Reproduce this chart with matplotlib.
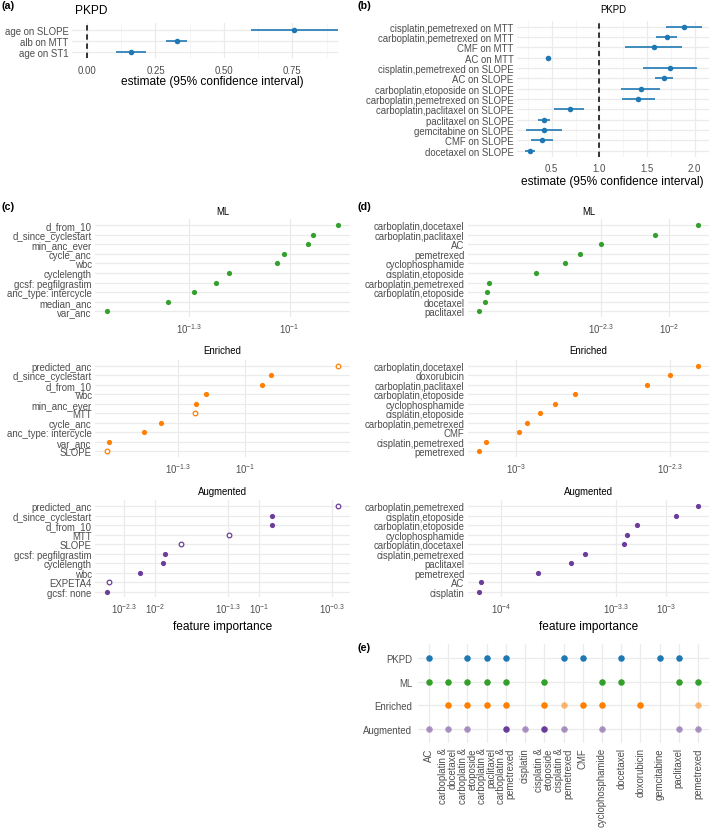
import numpy as np
import matplotlib
matplotlib.use("Agg")
import matplotlib.pyplot as plt
from matplotlib.ticker import NullLocator

plt.rcParams['font.family'] = ['Liberation Sans', 'DejaVu Sans']
plt.rcParams['mathtext.fontset'] = 'custom'
plt.rcParams['mathtext.rm'] = 'Liberation Sans'
plt.rcParams['mathtext.it'] = 'Liberation Sans:italic'

# ---- (a) PKPD covariate effects ----
a_labels = ["age on SLOPE", "alb on MTT", "age on ST1"]
a_est = [0.757, 0.328, 0.161]
a_lo = [0.599, 0.290, 0.107]
a_hi = [0.930, 0.366, 0.214]

# ---- (b) PKPD treatment effects ----
b_labels = ["cisplatin,pemetrexed on MTT", "carboplatin,pemetrexed on MTT", "CMF on MTT",
            "AC on MTT", "cisplatin,pemetrexed on SLOPE", "AC on SLOPE",
            "carboplatin,etoposide on SLOPE", "carboplatin,pemetrexed on SLOPE",
            "carboplatin,paclitaxel on SLOPE", "paclitaxel on SLOPE", "gemcitabine on SLOPE",
            "CMF on SLOPE", "docetaxel on SLOPE"]
b_est = [1.886, 1.708, 1.569, 0.459, 1.744, 1.680, 1.434, 1.409, 0.687, 0.420, 0.420, 0.395, 0.270]
b_lo = [1.700, 1.600, 1.274, 0.445, 1.456, 1.587, 1.231, 1.238, 0.527, 0.359, 0.231, 0.285, 0.217]
b_hi = [2.075, 1.820, 1.865, 0.473, 2.030, 1.772, 1.637, 1.587, 0.843, 0.480, 0.612, 0.509, 0.327]

# ---- (c) covariate feature importance ----
c_ml_labels = ["d_from_10", "d_since_cyclestart", "min_anc_ever", "cycle_anc", "wbc",
               "cyclelength", "gcsf: pegfilgrastim", "anc_type: intercycle", "median_anc", "var_anc"]
c_ml_vals = [0.140, 0.1175, 0.1132, 0.0962, 0.0920, 0.0658, 0.0603, 0.0520, 0.0433, 0.0284]

c_enr_labels = ["predicted_anc", "d_since_cyclestart", "d_from_10", "wbc", "min_anc_ever",
                "MTT", "cycle_anc", "anc_type: intercycle", "var_anc", "SLOPE"]
c_enr_vals = [0.261, 0.130, 0.1186, 0.0665, 0.0603, 0.0594, 0.0421, 0.0350, 0.0245, 0.0239]

c_aug_labels = ["predicted_anc", "d_since_cyclestart", "d_from_10", "MTT", "SLOPE",
                "gcsf: pegfilgrastim", "cyclelength", "wbc", "EXPETA4", "gcsf: none"]
c_aug_vals = [0.571, 0.1334, 0.1324, 0.0511, 0.0177, 0.0124, 0.0120, 0.00723, 0.00363, 0.00344]

pkpd_features = ["predicted_anc", "MTT", "SLOPE", "EXPETA4"]

# ---- (d) treatment feature importance ----
d_ml_labels = ["carboplatin,docetaxel", "carboplatin,paclitaxel", "AC", "pemetrexed",
               "cyclophosphamide", "cisplatin,etoposide", "carboplatin,pemetrexed",
               "carboplatin,etoposide", "docetaxel", "paclitaxel"]
d_ml_vals = [0.01337, 0.00865, 0.00497, 0.00402, 0.00346, 0.00258, 0.00160, 0.00157, 0.00153, 0.00144]

d_enr_labels = ["carboplatin,docetaxel", "doxorubicin", "carboplatin,paclitaxel",
                "carboplatin,etoposide", "cyclophosphamide", "cisplatin,etoposide",
                "carboplatin,pemetrexed", "CMF", "cisplatin,pemetrexed", "pemetrexed"]
d_enr_vals = [0.00667, 0.00500, 0.00394, 0.00186, 0.00150, 0.00129, 0.00113, 0.00103, 0.000733, 0.000682]

d_aug_labels = ["carboplatin,pemetrexed", "cisplatin,etoposide", "carboplatin,etoposide",
                "cyclophosphamide", "carboplatin,docetaxel", "cisplatin,pemetrexed",
                "paclitaxel", "pemetrexed", "AC", "cisplatin"]
d_aug_vals = [0.00156, 0.00115, 0.000665, 0.000578, 0.000560, 0.000322, 0.000267, 0.000167, 0.0000757, 0.0000738]

log_breaks = [1e-4, 5e-4, 1e-3, 5e-3, 1e-2, 5e-2, 1e-1, 5e-1]
log_break_labels = ["$10^{-4}$", "$10^{-3.3}$", "$10^{-3}$", "$10^{-2.3}$",
                    "$10^{-2}$", "$10^{-1.3}$", "$10^{-1}$", "$10^{-0.3}$"]

# ---- (e) treatments selected by each model ----
e_treatments = ["AC", "carboplatin &\ndocetaxel", "carboplatin &\netoposide",
                "carboplatin &\npaclitaxel", "carboplatin &\npemetrexed", "cisplatin",
                "cisplatin &\netoposide", "cisplatin &\npemetrexed", "CMF", "cyclophosphamide",
                "docetaxel", "doxorubicin", "gemcitabine", "paclitaxel", "pemetrexed"]
e_models = ["PKPD", "ML", "Enriched", "Augmented"]
e_strong = {
    "PKPD": ["AC", "carboplatin &\netoposide", "carboplatin &\npaclitaxel", "carboplatin &\npemetrexed",
             "cisplatin &\npemetrexed", "CMF", "docetaxel", "gemcitabine", "paclitaxel"],
    "ML": ["AC", "carboplatin &\ndocetaxel", "carboplatin &\netoposide", "carboplatin &\npaclitaxel",
           "carboplatin &\npemetrexed", "cisplatin &\netoposide", "cyclophosphamide", "docetaxel",
           "paclitaxel", "pemetrexed"],
    "Enriched": ["carboplatin &\ndocetaxel", "carboplatin &\netoposide", "carboplatin &\npaclitaxel",
                 "carboplatin &\npemetrexed", "cisplatin &\netoposide", "CMF", "cyclophosphamide",
                 "doxorubicin"],
    "Augmented": ["carboplatin &\npemetrexed", "cisplatin &\netoposide"],
}
e_faint = {
    "PKPD": [],
    "ML": [],
    "Enriched": ["cisplatin &\npemetrexed", "pemetrexed"],
    "Augmented": ["AC", "carboplatin &\ndocetaxel", "carboplatin &\netoposide", "cisplatin",
                  "cisplatin &\npemetrexed", "cyclophosphamide", "paclitaxel", "pemetrexed"],
}

colors = {"PKPD": "#1F78B4", "ML": "#33A02C", "Enriched": "#FF7F00", "Augmented": "#6A3D9A"}

W, H = 709, 829
fig = plt.figure(figsize=(W / 100, H / 100), dpi=100)
TICK = 6.9
AXT = 8.6
GREY = "#4D4D4D"


def px_axes(l, t, r, b):
    return fig.add_axes([l / W, 1 - b / H, (r - l) / W, (b - t) / H])


def ftext(x, y, s, **kw):
    kw.setdefault("va", "center")
    fig.text(x / W, 1 - y / H, s, **kw)


def style(ax, xpad=4.5):
    for sp in ax.spines.values():
        sp.set_visible(False)
    ax.tick_params(axis="both", which="both", length=0, labelsize=TICK, labelcolor=GREY)
    ax.tick_params(axis="y", pad=2.5)
    ax.tick_params(axis="x", pad=xpad)
    ax.grid(True, which="major", color="#EBEBEB", lw=0.9)
    ax.grid(True, which="minor", color="#F4F4F4", lw=0.6)
    ax.set_axisbelow(True)


def forest(ax, labels, est, lo, hi, ref, xlim, major, minor, color):
    n = len(labels)
    y = np.arange(n)[::-1]
    ax.hlines(y, lo, hi, color=color, lw=1.2, zorder=3)
    ax.scatter(est, y, s=16, color=color, zorder=4, linewidths=0)
    ax.axvline(ref, color="black", lw=1.1, ls=(0, (3.5, 2.5)), zorder=2)
    ax.set_yticks(y, labels)
    ax.set_xticks(major)
    ax.set_xticks(minor, minor=True)
    ax.set_xlim(*xlim)
    ax.set_ylim(-0.6, n - 0.4)
    style(ax)


def dots(ax, labels, vals, color, hollow_set):
    n = len(labels)
    y = np.arange(n)[::-1]
    vals = np.array(vals)
    hollow = np.array([lab in hollow_set for lab in labels])
    ax.scatter(vals[~hollow], y[~hollow], s=14, color=color, zorder=3, linewidths=0)
    ax.scatter(vals[hollow], y[hollow], s=11, facecolors="white", edgecolors=color,
               linewidths=0.9, zorder=3)
    ax.set_xscale("log")
    ax.set_yticks(y, labels)
    ax.set_xticks(log_breaks, log_break_labels)
    ax.xaxis.set_minor_locator(NullLocator())
    lo, hi = np.log10(vals.min()), np.log10(vals.max())
    pad = 0.05 * (hi - lo)
    ax.set_xlim(10 ** (lo - pad), 10 ** (hi + pad))
    ax.set_ylim(-0.6, n - 0.4)
    style(ax, xpad=3)


# (a)
ax_a = px_axes(72, 24.1, 338, 59.3)
forest(ax_a, a_labels, a_est, a_lo, a_hi, 0, (-0.055, 0.917),
       [0, 0.25, 0.5, 0.75], [0.125, 0.375, 0.625, 0.875], colors["PKPD"])
ax_a.set_xticklabels(["0.00", "0.25", "0.50", "0.75"])
ftext(2, 6, "(a)", fontsize=7.7, fontweight="bold")
ftext(75, 10.5, "PKPD", fontsize=AXT)
ftext(212, 82, "estimate (95% confidence interval)", fontsize=AXT, ha="center")

# (b)
ax_b = px_axes(517, 21.5, 709, 158)
forest(ax_b, b_labels, b_est, b_lo, b_hi, 1, (0.135, 2.152),
       [0.5, 1.0, 1.5, 2.0], [0.25, 0.75, 1.25, 1.75], colors["PKPD"])
ftext(358, 6, "(b)", fontsize=7.7, fontweight="bold")
ftext(613, 10, "PKPD", fontsize=TICK, ha="center")
ftext(612, 182.5, "estimate (95% confidence interval)", fontsize=AXT, ha="center")

# (c) and (d)
rows = [(220.2, 318.1, 212), (361.0, 458.0, 351.3), (501.3, 598.4, 491.7)]
c_sets = [(c_ml_labels, c_ml_vals, "ML"), (c_enr_labels, c_enr_vals, "Enriched"),
          (c_aug_labels, c_aug_vals, "Augmented")]
d_sets = [(d_ml_labels, d_ml_vals, "ML"), (d_enr_labels, d_enr_vals, "Enriched"),
          (d_aug_labels, d_aug_vals, "Augmented")]
for (top, bot, ty), (cl, cv, name), (dl, dv, _) in zip(rows, c_sets, d_sets):
    axc = px_axes(95, top, 350, bot)
    dots(axc, cl, cv, colors[name], pkpd_features)
    ftext(222.5, ty, name, fontsize=TICK, ha="center")
    axd = px_axes(468, top, 709, bot)
    dots(axd, dl, dv, colors[name], [])
    ftext(588.5, ty, name, fontsize=TICK, ha="center")

ftext(2, 207.5, "(c)", fontsize=7.7, fontweight="bold")
ftext(358, 207.5, "(d)", fontsize=7.7, fontweight="bold")
ftext(222.5, 627, "feature importance", fontsize=AXT, ha="center")
ftext(588.5, 627, "feature importance", fontsize=AXT, ha="center")

# (e)
ax_e = px_axes(417.5, 644.8, 709.5, 744.2)
xpos = {t: i for i, t in enumerate(e_treatments)}
for j, model in enumerate(e_models):
    yy = len(e_models) - 1 - j
    xs = [xpos[t] for t in e_strong[model]]
    ax_e.scatter(xs, [yy] * len(xs), s=22, color=colors[model], zorder=3, linewidths=0)
    xf = [xpos[t] for t in e_faint[model]]
    ax_e.scatter(xf, [yy] * len(xf), s=22, color=colors[model], alpha=0.55, zorder=3, linewidths=0)
ax_e.set_xticks(range(len(e_treatments)))
ax_e.set_xticklabels(e_treatments, rotation=90, ha="center", va="top",
                     multialignment="right", linespacing=0.95)
ax_e.set_yticks(range(len(e_models)), e_models[::-1])
ax_e.set_xlim(-0.6, len(e_treatments) - 0.4)
ax_e.set_ylim(-0.6, len(e_models) - 0.4)
style(ax_e, xpad=3)
ax_e.tick_params(axis="y", pad=4)
ftext(358, 648, "(e)", fontsize=7.7, fontweight="bold")

fig.savefig("out.png", dpi=100)
